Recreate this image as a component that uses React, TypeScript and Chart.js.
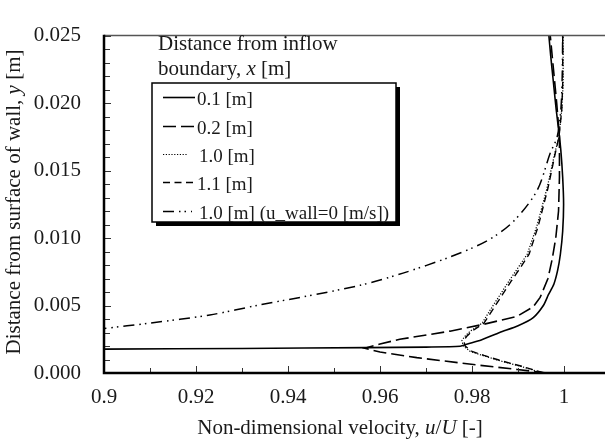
import React, { useEffect, useRef } from 'react';
import { Chart, registerables } from 'chart.js';

Chart.register(...registerables);

// ---------- data ----------
const SERIES_LABELS = ['0.1 [m]', '0.2 [m]', '1.0 [m]', '1.1 [m]', '1.0 [m] (u_wall=0 [m/s])'];

const X_MIN = 0.9;
const X_MAX = 1.0089;
const Y_MIN = 0;
const Y_MAX = 0.025;

// x = 0.1 m (solid)
const u01 = [0.85, 0.9, 0.93, 0.957, 0.97, 0.9774, 0.979, 0.982, 0.986, 0.99, 0.9933, 0.9955, 0.9966, 0.9978, 0.9986, 0.9992, 0.9997, 0.9999, 0.9997, 0.9993, 0.9989, 0.9983, 0.9977, 0.9971, 0.9967];
const y01 = [0.0017, 0.00177, 0.00182, 0.00188, 0.00192, 0.00198, 0.00215, 0.00245, 0.003, 0.0035, 0.0041, 0.005, 0.0058, 0.0066, 0.0076, 0.0088, 0.0105, 0.0125, 0.0145, 0.0165, 0.0178, 0.0195, 0.0215, 0.0235, 0.025];

// x = 0.2 m (long dash)
const u02 = [0.9963, 0.9898, 0.9789, 0.968, 0.96, 0.9567, 0.96, 0.9643, 0.9752, 0.9824, 0.9898, 0.9933, 0.9948, 0.9965, 0.9974, 0.9982, 0.9988, 0.999, 0.999, 0.9984, 0.9977, 0.997];
const y02 = [0.0, 0.00026, 0.00068, 0.00114, 0.00155, 0.00184, 0.00215, 0.0025, 0.0031, 0.0036, 0.0042, 0.0049, 0.0056, 0.007, 0.0084, 0.01, 0.012, 0.0145, 0.0175, 0.02, 0.0225, 0.025];

// x = 1.0 m (dotted)
const u10 = [0.9954, 0.9905, 0.9861, 0.9823, 0.9796, 0.9781, 0.9778, 0.9784, 0.9796, 0.9822, 0.984, 0.9861, 0.988, 0.9898, 0.992, 0.9941, 0.9963, 0.998, 0.9989, 0.9995, 0.9998, 0.9998];
const y10 = [0.0, 0.0005, 0.0009, 0.0013, 0.0016, 0.002, 0.0024, 0.0027, 0.0031, 0.0037, 0.0047, 0.0058, 0.0068, 0.0077, 0.0088, 0.0109, 0.0137, 0.0163, 0.0175, 0.0195, 0.0214, 0.025];

// x = 1.1 m (short dash)
const u11 = [0.9956, 0.9908, 0.9864, 0.9826, 0.98, 0.9785, 0.9782, 0.9788, 0.98, 0.9826, 0.9845, 0.9866, 0.9885, 0.9903, 0.9924, 0.9944, 0.9965, 0.9981, 0.9989, 0.9995, 0.9997, 0.9997];
const y11 = [0.0, 0.0005, 0.0009, 0.0013, 0.0016, 0.002, 0.0024, 0.0027, 0.0031, 0.0037, 0.0047, 0.0058, 0.0068, 0.0077, 0.0088, 0.0109, 0.0137, 0.0163, 0.0175, 0.0195, 0.0214, 0.025];

// x = 1.0 m, u_wall = 0 (dash-dot-dot)
const u10w = [0.88, 0.9, 0.91, 0.923, 0.9339, 0.9426, 0.9557, 0.965, 0.9752, 0.9833, 0.9889, 0.9941, 0.997, 0.9985, 0.9993, 0.9996, 0.9997];
const y10w = [0.0026, 0.0033, 0.0037, 0.0043, 0.00505, 0.0056, 0.0065, 0.0074, 0.0086, 0.0098, 0.0112, 0.0135, 0.0163, 0.0175, 0.0195, 0.022, 0.025];

const SERIES_U = [u01, u02, u10, u11, u10w];
const SERIES_Y = [y01, y02, y10, y11, y10w];

// ---------- styles ----------
const FAMILY = '"Liberation Serif", "Times New Roman", serif';
const TEXT = '#1a1a1a';
const DASHES: number[][] = [[], [13, 5], [1.2, 1.6], [7, 4.5], [11, 5, 1.5, 4, 1.5, 5]];
const WIDTHS = [1.6, 1.6, 1.2, 1.4, 1.5];
const TENSIONS = [0.25, 0, 0, 0, 0.3];

type Part = [string, boolean];

function drawRich(ctx: CanvasRenderingContext2D, parts: Part[], x: number, y: number, size: number, align: 'left' | 'center') {
  let total = 0;
  const widths = parts.map(([t, it]) => {
    ctx.font = `${it ? 'italic ' : ''}${size}px ${FAMILY}`;
    const w = ctx.measureText(t).width;
    total += w;
    return w;
  });
  let cx = align === 'center' ? x - total / 2 : x;
  ctx.textAlign = 'left';
  parts.forEach(([t, it], i) => {
    ctx.font = `${it ? 'italic ' : ''}${size}px ${FAMILY}`;
    ctx.fillText(t, cx, y);
    cx += widths[i];
  });
}

const framePlugin = {
  id: 'frame',
  afterDatasetsDraw(chart: any) {
    const { ctx, chartArea: a, scales } = chart;
    ctx.save();
    ctx.strokeStyle = '#333';
    ctx.lineWidth = 1;
    scales.y.ticks.forEach((t: any) => {
      const p = Math.round(scales.y.getPixelForValue(t.value)) + 0.5;
      const major = Math.round(t.value * 1000) % 5 === 0;
      ctx.beginPath();
      ctx.moveTo(a.left, p);
      ctx.lineTo(a.left + (major ? 7 : 6), p);
      ctx.stroke();
    });
    scales.x.ticks.forEach((t: any) => {
      const k = t.value * 100;
      if (Math.abs(k - Math.round(k)) > 1e-6) return;
      const p = Math.round(scales.x.getPixelForValue(t.value)) + 0.5;
      const major = Math.round(k) % 2 === 0;
      ctx.beginPath();
      ctx.moveTo(p, a.bottom);
      ctx.lineTo(p, a.bottom - (major ? 7 : 5));
      ctx.stroke();
    });
    // top border
    ctx.strokeStyle = '#555';
    ctx.lineWidth = 1.5;
    ctx.beginPath();
    ctx.moveTo(a.left, a.top);
    ctx.lineTo(a.right, a.top);
    ctx.stroke();
    // axes
    ctx.strokeStyle = '#000';
    ctx.lineWidth = 2.5;
    ctx.beginPath();
    ctx.moveTo(a.left, a.top - 0.75);
    ctx.lineTo(a.left, a.bottom + 1.25);
    ctx.moveTo(a.left - 1.25, a.bottom);
    ctx.lineTo(a.right, a.bottom);
    ctx.stroke();
    ctx.restore();
  },
};

const textPlugin = {
  id: 'texts',
  afterDraw(chart: any) {
    const { ctx } = chart;
    ctx.save();
    ctx.fillStyle = TEXT;
    ctx.textBaseline = 'middle';
    // x title
    drawRich(ctx, [['Non-dimensional velocity, ', false], ['u', true], ['/', false], ['U', true], [' [-]', false]], 340, 428, 21, 'center');
    // y title
    ctx.save();
    ctx.translate(14, 202);
    ctx.rotate(-Math.PI / 2);
    drawRich(ctx, [['Distance from surface of wall, ', false], ['y', true], [' [m]', false]], 0, 0, 21, 'center');
    ctx.restore();

    // legend title
    ctx.textBaseline = 'alphabetic';
    drawRich(ctx, [['Distance from inflow', false]], 158, 50, 21, 'left');
    drawRich(ctx, [['boundary, ', false], ['x', true], [' [m]', false]], 158, 75, 21, 'left');

    // legend box
    const bx = 152, by = 83, bw = 244, bh = 139;
    ctx.fillStyle = '#000';
    ctx.fillRect(bx + 4, by + 4, bw, bh);
    ctx.fillStyle = '#fff';
    ctx.fillRect(bx, by, bw, bh);
    ctx.strokeStyle = '#000';
    ctx.lineWidth = 1.5;
    ctx.strokeRect(bx, by, bw, bh);

    const rows = [98, 127, 155, 183, 212];
    const sampleEnd = [195, 195, 188, 195, 192];
    const textX = [197, 197, 199, 197, 199];
    chart.data.datasets.forEach((ds: any, i: number) => {
      const yy = rows[i] - 0.5;
      ctx.strokeStyle = '#000';
      ctx.lineWidth = ds.borderWidth;
      ctx.setLineDash(ds.borderDash || []);
      ctx.beginPath();
      ctx.moveTo(163, yy);
      ctx.lineTo(sampleEnd[i], yy);
      ctx.stroke();
      ctx.setLineDash([]);
      ctx.fillStyle = TEXT;
      drawRich(ctx, [[ds.label, false]], textX[i], rows[i] + 6.5, 19, 'left');
    });
    ctx.restore();
  },
};

export default function App() {
  const ref = useRef<HTMLCanvasElement>(null);
  useEffect(() => {
    const canvas = ref.current;
    if (!canvas) return;
    const datasets = SERIES_LABELS.map((label, i) => ({
      label,
      data: SERIES_U[i].map((u, j) => ({ x: u, y: SERIES_Y[i][j] })),
      showLine: true,
      pointRadius: 0,
      borderColor: '#000',
      backgroundColor: '#000',
      borderWidth: WIDTHS[i],
      borderDash: DASHES[i],
      fill: false,
      tension: TENSIONS[i],
    }));
    const chart = new Chart(canvas, {
      type: 'scatter',
      data: { datasets },
      options: {
        responsive: false,
        animation: false,
        layout: { padding: { left: 0, top: 15, right: 0, bottom: 0 } },
        plugins: { legend: { display: false }, tooltip: { enabled: false } },
        scales: {
          x: {
            type: 'linear',
            min: X_MIN,
            max: X_MAX,
            border: { display: false },
            grid: { display: false, drawTicks: false },
            ticks: {
              stepSize: 0.01,
              includeBounds: false,
              autoSkip: false,
              maxRotation: 0,
              padding: 12,
              color: TEXT,
              font: { family: FAMILY, size: 21 },
              callback: (v: any) => {
                const k = Math.round(Number(v) * 100);
                return k % 2 === 0 ? String(k / 100) : '';
              },
            },
            afterFit: (s: any) => {
              s.height = 68;
            },
          },
          y: {
            type: 'linear',
            min: Y_MIN,
            max: Y_MAX,
            border: { display: false },
            grid: { display: false, drawTicks: false },
            ticks: {
              stepSize: 0.001,
              includeBounds: false,
              autoSkip: false,
              padding: 23,
              color: TEXT,
              font: { family: FAMILY, size: 21 },
              callback: (v: any) => {
                const k = Math.round(Number(v) * 1000);
                return k % 5 === 0 ? (k / 1000).toFixed(3) : '';
              },
            },
            afterFit: (s: any) => {
              s.width = 104;
            },
          },
        },
      },
      plugins: [framePlugin, textPlugin],
    } as any);
    return () => chart.destroy();
  }, []);
  return (
    <canvas
      ref={ref}
      width={605}
      height={441}
      style={{ position: 'absolute', left: 0, top: 0, display: 'block', background: '#fff' }}
    />
  );
}
